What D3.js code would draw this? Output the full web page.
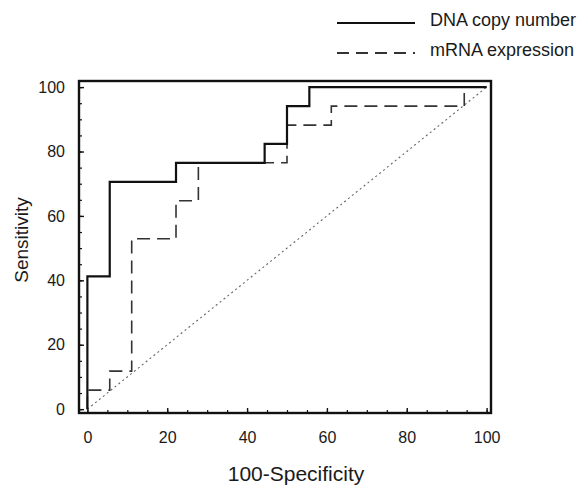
<!DOCTYPE html>
<html>
<head>
<meta charset="utf-8">
<script src="https://cdn.jsdelivr.net/npm/d3@7"></script>
<style>
  html, body { margin: 0; padding: 0; background: #fff; }
  svg { display: block; font-family: "Liberation Sans", Arial, sans-serif; }
</style>
</head>
<body>
<svg id="chart" width="580" height="486"></svg>
<script>
// ROC corner points (100-specificity, sensitivity), drawn as steps
const dnaFpr  = [0, 5.6, 22.2, 44.4, 50.0, 55.6, 100];
const dnaTpr  = [0, 41.2, 70.6, 76.5, 82.4, 94.1, 100];
const mrnaFpr = [0, 5.6, 11.1, 22.2, 27.8, 50.0, 61.1, 94.4, 100];
const mrnaTpr = [0, 5.9, 11.8, 52.9, 64.7, 76.5, 88.2, 94.1, 100];
const refLine = [0, 100];
const majorTicks = [0, 20, 40, 60, 80, 100];
const minorTicks = d3.range(0, 101, 5);
const seriesNames = ["DNA copy number", "mRNA expression"];

const svg = d3.select("#chart");
const box = { left: 79, right: 491, top: 81, bottom: 413 };

const x = d3.scaleLinear().domain([-2.1, 101.1]).range([box.left, box.right]);
const y = d3.scaleLinear().domain([-1.2, 101.9]).range([box.bottom, box.top]);

// minor ticks (inward)
svg.append("g")
  .attr("transform", `translate(0,${box.bottom})`)
  .call(d3.axisBottom(x).tickValues(minorTicks).tickSize(-3).tickFormat(""))
  .call(g => g.select(".domain").remove())
  .call(g => g.selectAll("line").attr("stroke", "#111").attr("stroke-width", 1.2));
svg.append("g")
  .attr("transform", `translate(${box.left},0)`)
  .call(d3.axisLeft(y).tickValues(minorTicks).tickSize(-3).tickFormat(""))
  .call(g => g.select(".domain").remove())
  .call(g => g.selectAll("line").attr("stroke", "#111").attr("stroke-width", 1.2));

// major ticks with labels
svg.append("g")
  .attr("transform", `translate(0,${box.bottom})`)
  .call(d3.axisBottom(x).tickValues(majorTicks).tickSize(-5).tickPadding(19).tickFormat(d3.format("d")))
  .call(g => g.select(".domain").remove())
  .call(g => g.selectAll("line").attr("stroke", "#111").attr("stroke-width", 1.4))
  .call(g => g.selectAll("text").attr("font-size", 16).attr("fill", "#1a1a1a")
    .attr("font-family", "Liberation Sans, Arial, sans-serif"));
svg.append("g")
  .attr("transform", `translate(${box.left},0)`)
  .call(d3.axisLeft(y).tickValues(majorTicks).tickSize(-5).tickPadding(14).tickFormat(d3.format("d")))
  .call(g => g.select(".domain").remove())
  .call(g => g.selectAll("line").attr("stroke", "#111").attr("stroke-width", 1.4))
  .call(g => g.selectAll("text").attr("font-size", 16).attr("fill", "#1a1a1a")
    .attr("font-family", "Liberation Sans, Arial, sans-serif"));

// reference diagonal
svg.append("line")
  .attr("x1", x(refLine[0])).attr("y1", y(refLine[0]))
  .attr("x2", x(refLine[1])).attr("y2", y(refLine[1]))
  .attr("stroke", "#666").attr("stroke-width", 1.1)
  .attr("stroke-dasharray", "2,3");

const step = d3.line()
  .x(d => x(d[0])).y(d => y(d[1]))
  .curve(d3.curveStepBefore);

// mRNA expression (dashed)
svg.append("path")
  .datum(d3.zip(mrnaFpr, mrnaTpr))
  .attr("d", step)
  .attr("fill", "none").attr("stroke", "#333").attr("stroke-width", 1.6)
  .attr("stroke-dasharray", "13,7");

// DNA copy number (solid)
svg.append("path")
  .datum(d3.zip(dnaFpr, dnaTpr))
  .attr("d", step)
  .attr("fill", "none").attr("stroke", "#111").attr("stroke-width", 2.2);

// plot frame
svg.append("rect")
  .attr("x", box.left).attr("y", box.top)
  .attr("width", box.right - box.left).attr("height", box.bottom - box.top)
  .attr("fill", "none").attr("stroke", "#111").attr("stroke-width", 2.4);

// axis titles
svg.append("text")
  .attr("x", 296).attr("y", 481)
  .attr("text-anchor", "middle")
  .attr("font-size", 21).attr("fill", "#1a1a1a")
  .text("100-Specificity");
svg.append("text")
  .attr("transform", "translate(28,240) rotate(-90)")
  .attr("text-anchor", "middle")
  .attr("font-size", 19).attr("fill", "#1a1a1a")
  .text("Sensitivity");

// legend
const legend = svg.append("g");
const legendRows = [
  { name: seriesNames[0], dash: null, width: 2, color: "#111", y: 23 },
  { name: seriesNames[1], dash: "12,7", width: 1.8, color: "#333", y: 53 }
];
legendRows.forEach(r => {
  legend.append("line")
    .attr("x1", 337).attr("x2", 415).attr("y1", r.y).attr("y2", r.y)
    .attr("stroke", r.color).attr("stroke-width", r.width)
    .attr("stroke-dasharray", r.dash);
  legend.append("text")
    .attr("x", 430).attr("y", r.y + 3)
    .attr("font-size", 18).attr("fill", "#1a1a1a")
    .text(r.name);
});
</script>
</body>
</html>
